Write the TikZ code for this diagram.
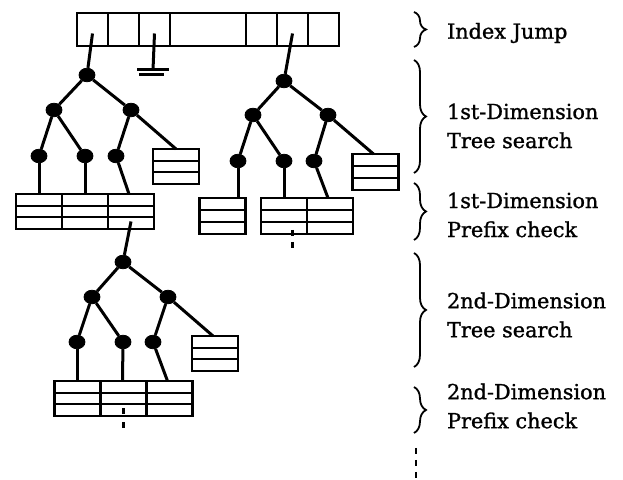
\documentclass[tikz,border=0pt]{standalone}
\usepackage{fontspec}
\setmainfont{DejaVu Serif}
\newfontfamily\lblfont[FakeBold=1.2]{DejaVu Serif}
\usetikzlibrary{positioning,calc,shapes.geometric,decorations.pathreplacing}

\tikzset{
  knot/.style={ellipse,fill=black,draw=black,inner sep=0pt,minimum width=8pt,minimum height=6.8pt},
  cell/.style={draw,line width=1.2pt,inner sep=0pt,outer sep=0pt,minimum width=15.5pt,minimum height=16.5pt},
  rec/.style={draw,line width=1.2pt,inner sep=0pt,outer sep=0pt,minimum width=23pt,minimum height=17.5pt,
    path picture={
      \draw[line width=1.2pt] ($(path picture bounding box.north west)!0.34!(path picture bounding box.south west)$)
        -- ($(path picture bounding box.north east)!0.34!(path picture bounding box.south east)$);
      \draw[line width=1.2pt] ($(path picture bounding box.north west)!0.66!(path picture bounding box.south west)$)
        -- ($(path picture bounding box.north east)!0.66!(path picture bounding box.south east)$);
    }},
  edge/.style={line width=1.5pt},
  brc/.style={decorate,decoration={brace,amplitude=6pt},line width=0.9pt},
  lbl/.style={anchor=west,align=left,font=\lblfont\fontsize{10.4}{14.5}\selectfont}
}

\begin{document}
\begin{tikzpicture}[x=0.5pt,y=-0.5pt]
  \useasboundingbox (0,0) rectangle (623,480);

  % index jump table
  \node[cell] (idx1) at (92.5,29.5) {};
  \node[cell,right=0pt of idx1] (idx2) {};
  \node[cell,right=0pt of idx2] (idx3) {};
  \node[cell,right=0pt of idx3,minimum width=38pt] (idx4) {};
  \node[cell,right=0pt of idx4] (idx5) {};
  \node[cell,right=0pt of idx5] (idx6) {};
  \node[cell,right=0pt of idx6] (idx7) {};

  % ground
  \coordinate (gnd) at (153,70);
  \draw[edge] ([yshift=-2pt]idx3.center) -- (gnd);
  \draw[edge] ([xshift=-8pt]gnd) -- ([xshift=8pt]gnd);
  \draw[edge] ([xshift=-7pt,yshift=-2.5pt]gnd) -- ([xshift=5.5pt,yshift=-2.5pt]gnd);

  % 1st dimension, left tree
  \node[knot] (a0) at (87,75) {};
  \node[knot] (a1) at (54,110) {};
  \node[knot] (a2) at (131,110) {};
  \node[knot] (a3) at (39,156) {};
  \node[knot] (a4) at (85,156) {};
  \node[knot] (a5) at (116,156) {};
  \node[rec] (aL) at (176,166.5) {};
  \node[rec] (la1) at (39,211.5) {};
  \node[rec,right=0pt of la1] (la2) {};
  \node[rec,right=0pt of la2] (la3) {};
  \draw[edge] ([yshift=-2pt]idx1.center) -- (a0);
  \draw[edge] (a0) -- (a1);
  \draw[edge] (a0) -- (a2);
  \draw[edge] (a1) -- (a3);
  \draw[edge] (a1) -- (a4);
  \draw[edge] (a2) -- (a5);
  \draw[edge] (a2) -- (aL.north);
  \draw[edge] (a3) -- (a3 |- la1.north);
  \draw[edge] (a4) -- (a4 |- la2.north);
  \draw[edge] (a5) -- ([xshift=-1pt]la3.north);

  % 1st dimension, right tree
  \node[knot] (r0) at (284,81) {};
  \node[knot] (r1) at (253,115) {};
  \node[knot] (r2) at (328,115) {};
  \node[knot] (r3) at (238,161) {};
  \node[knot] (r4) at (284,161) {};
  \node[knot] (r5) at (314,161) {};
  \node[rec,minimum height=18pt] (rL) at (375.5,172) {};
  \node[rec,minimum height=18pt] (rb1) at (222.5,216) {};
  \node[rec,minimum height=18pt] (rb2) at (284,216) {};
  \node[rec,minimum height=18pt,right=0pt of rb2] (rb3) {};
  \draw[edge] ([yshift=-2pt]idx6.center) -- (r0);
  \draw[edge] (r0) -- (r1);
  \draw[edge] (r0) -- (r2);
  \draw[edge] (r1) -- (r3);
  \draw[edge] (r1) -- (r4);
  \draw[edge] (r2) -- (r5);
  \draw[edge] (r2) -- ([xshift=-1pt]rL.north);
  \draw[edge] (r3) -- (r3 |- rb1.north);
  \draw[edge] (r4) -- (r4 |- rb2.north);
  \draw[edge] (r5) -- ([xshift=-1pt]rb3.north);
  \draw[edge,dash pattern=on 3pt off 3pt] ([xshift=4pt,yshift=-7pt]rb2.center) -- ++(0,20);

  % 2nd dimension tree
  \node[knot] (s0) at (123,262) {};
  \node[knot] (s1) at (92,297) {};
  \node[knot] (s2) at (168,297) {};
  \node[knot] (s3) at (77,342) {};
  \node[knot] (s4) at (123,342) {};
  \node[knot] (s5) at (153,342) {};
  \node[rec] (sL) at (215,353.5) {};
  \node[rec] (sb1) at (77.5,398.5) {};
  \node[rec,right=0pt of sb1] (sb2) {};
  \node[rec,right=0pt of sb2] (sb3) {};
  \draw[edge] ([yshift=-5pt]la3.center) -- (s0);
  \draw[edge] (s0) -- (s1);
  \draw[edge] (s0) -- (s2);
  \draw[edge] (s1) -- (s3);
  \draw[edge] (s1) -- (s4);
  \draw[edge] (s2) -- (s5);
  \draw[edge] (s2) -- ([xshift=-1pt]sL.north);
  \draw[edge] (s3) -- (s3 |- sb1.north);
  \draw[edge] (s4) -- ([xshift=-0.5pt]sb2.north);
  \draw[edge] (s5) -- ([xshift=-1pt]sb3.north);
  \draw[edge,dash pattern=on 3pt off 4pt] ([yshift=-5pt]sb2.center) -- ++(0,22);

  % braces and labels
  \draw[brc] (414,12) -- (414,47);
  \node[lbl] (ij) at (440,33) {Index Jump};
  \draw[brc] (414,60) -- (414,173);
  \node[lbl] (t1) at (440,126) {1st-Dimension\\Tree search};
  \draw[brc] (414,183) -- (414,240);
  \node[lbl] (p1) at (440,215) {1st-Dimension\\Prefix check};
  \draw[brc] (414,253) -- (414,367);
  \node[lbl] (t2) at (440,315) {2nd-Dimension\\Tree search};
  \draw[brc] (414,387) -- (414,433);
  \node[lbl] (p2) at (440,406) {2nd-Dimension\\Prefix check};
  \draw[line width=1.2pt,dash pattern=on 3pt off 3pt] (416,448) -- (416,480);
\end{tikzpicture}
\end{document}
